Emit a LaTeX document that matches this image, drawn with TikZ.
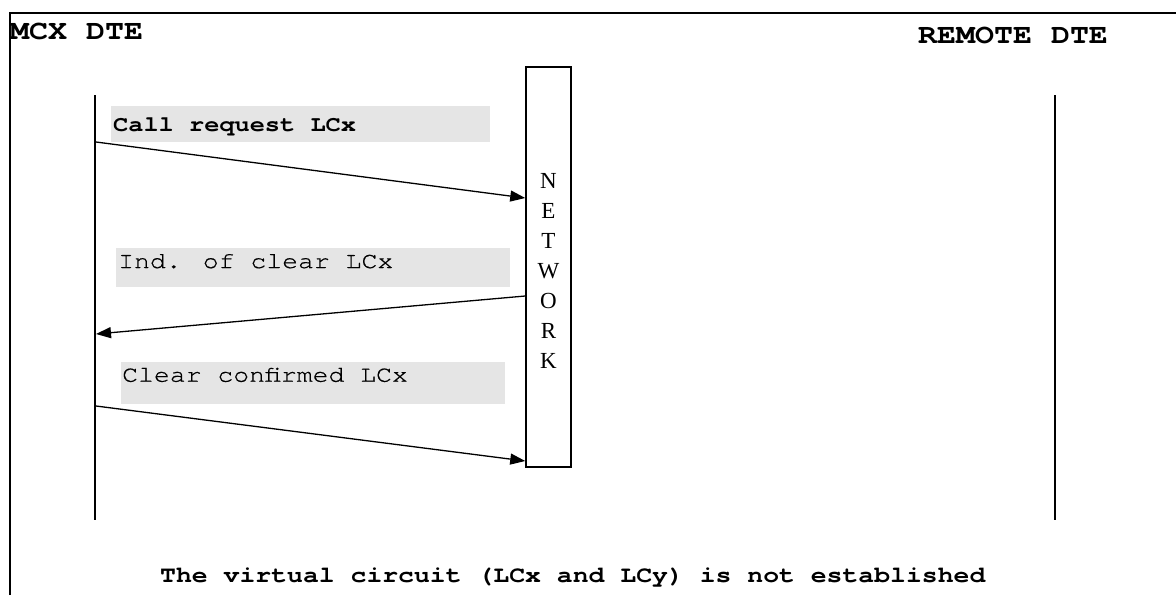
\documentclass[tikz,border=0pt]{standalone}
\usepackage{fontspec}
\setmonofont{texgyrecursor}[Extension=.otf,UprightFont=*-regular,BoldFont=*-bold,FakeStretch=1.15]
\newfontfamily\lblfont{texgyrecursor}[Extension=.otf,UprightFont=*-regular,FakeStretch=1.15,FakeBold=0.5]
\newfontfamily\netfont{Liberation Serif}
\newcommand\monosp{\fontdimen2\font=0.69em\fontdimen3\font=0pt\fontdimen4\font=0pt\relax}
\usetikzlibrary{positioning,arrows.meta}
\definecolor{lblgray}{RGB}{229,229,229}
\tikzset{dte/.style={font=\fontsize{27.5}{32}\selectfont\ttfamily\bfseries\monosp,inner sep=0pt,anchor=base west},
	 lifeline/.style={line width=2pt},
	 msgbox/.style={fill=lblgray,inner sep=0pt,anchor=north west},
	 msgtext/.style={inner sep=0pt,anchor=base west,font=\fontsize{23}{27}\selectfont\lblfont\monosp},
	 msg/.style={-{Triangle[length=15pt,width=11pt]},line width=1.3pt},
	 netbox/.style={draw,line width=1.5pt,minimum width=45pt,minimum height=400pt},
	 netname/.style={align=center,inner sep=0pt,font=\fontsize{23}{30}\selectfont\netfont}
	 }

\begin{document}
\begin{tikzpicture}[x=1pt,y=-1pt] % clearing of LCx by the network
        \useasboundingbox (0,0) rectangle (1176,595);
        \coordinate (tl) at (10,13);
        \coordinate (tr) at (1176,13);
        \coordinate (bl) at (10,595);
        \draw[line width=2pt] (bl) -- (tl) -- (tr);
        \node[dte] (mcx) at (10,39) {MCX DTE};
        \node[dte] (remote) at (918,43) {REMOTE DTE};
        \coordinate (la) at (95,95);
        \coordinate (lb) at (95,520);
        \coordinate (ra) at (1055,95);
        \coordinate (rb) at (1055,520);
	\draw[lifeline] (la) to (lb);
	\draw[lifeline] (ra) to (rb);
        \node[netbox] (net) at (548.5,267) {};
        \node[netname] (netlbl) at ([yshift=-4pt]net.center) {N\\E\\T\\W\\O\\R\\K};
        \node[msgbox,minimum width=379pt,minimum height=35.7pt] (reqbox) at (111,106) {};
        \node[msgtext,font=\fontsize{22}{27}\selectfont\ttfamily\bfseries\monosp] (req) at (113,131.7) {Call request LCx};
        \node[msgbox,minimum width=394pt,minimum height=39pt] (indbox) at (116,248) {};
        \node[msgtext] (ind) at (118,268) {Ind. of clear LCx};
        \node[msgbox,minimum width=384pt,minimum height=42pt] (confbox) at (121,362) {};
        \node[msgtext] (conf) at (122,381.7) {Clear confirmed LCx};
        \coordinate (m1s) at (96,142);
        \coordinate (m1e) at (net.west |- 0,198);
        \coordinate (m2s) at (net.west |- 0,296);
        \coordinate (m2e) at (96,334);
        \coordinate (m3s) at (96,406);
        \coordinate (m3e) at (net.west |- 0,461);
	\draw[msg] (m1s) to (m1e);
	\draw[msg] (m2s) to (m2e);
	\draw[msg] (m3s) to (m3e);
        \node[msgtext,font=\fontsize{23}{27}\selectfont\ttfamily\bfseries\monosp] (note) at (160,582)
          {The virtual circuit (LCx and LCy) is not established};
\end{tikzpicture}
\end{document}
